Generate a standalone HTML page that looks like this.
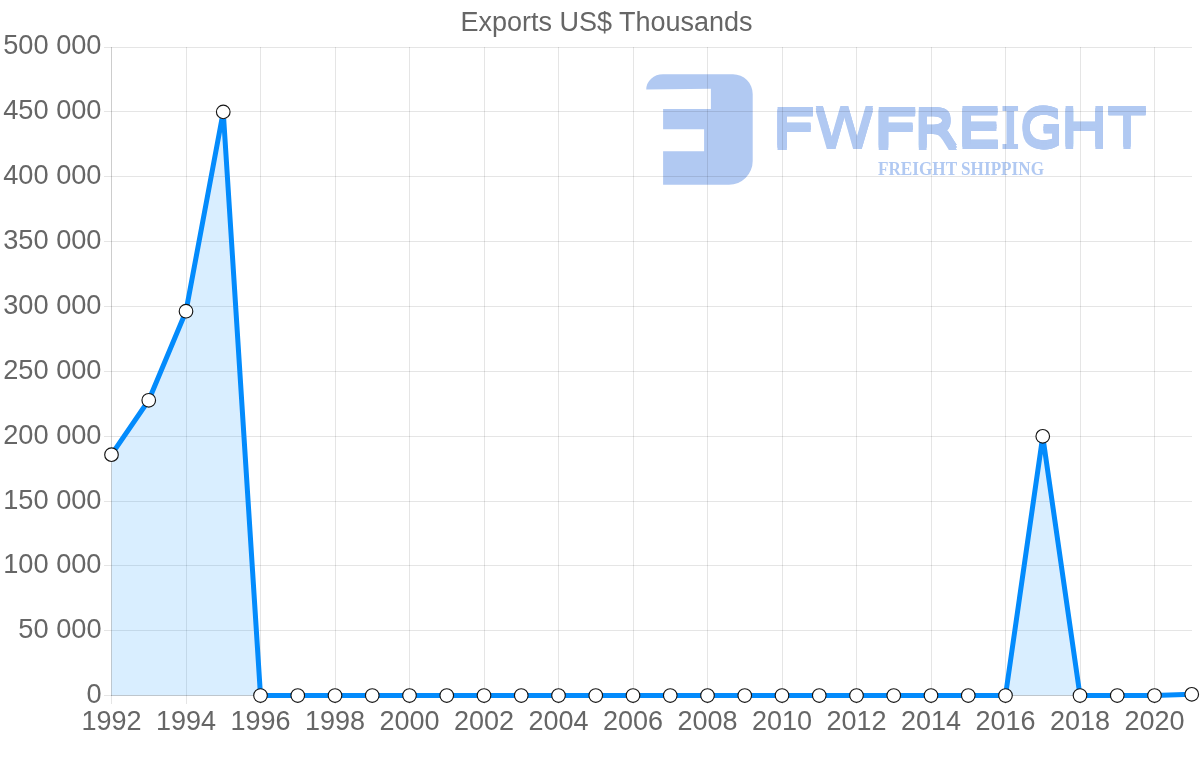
<!DOCTYPE html>
<html><head><meta charset="utf-8"><title>Exports US$ Thousands</title>
<style>
html,body{margin:0;padding:0;background:#fff;width:1200px;height:763px;overflow:hidden}
svg{display:block;will-change:transform}
.t{font-family:"Liberation Sans",Arial,sans-serif;fill:#666;font-size:27px}
.ty{font-size:27.2px}
.lg{font-family:"DejaVu Sans","Liberation Sans",sans-serif;font-weight:bold;font-size:100px}
.lm{font-family:"DejaVu Sans Mono","Liberation Mono",monospace;font-weight:bold;font-size:100px}
</style></head><body>
<svg width="1200" height="763" viewBox="0 0 1200 763">
<rect width="1200" height="763" fill="#fff"/>

<g fill="rgb(177,201,242)">
<path d="M663,74.2 L733,74.2 A19.7,19.8 0 0 1 752.7,94 L752.7,161 A23.7,23.7 0 0 1 729,184.7 L663.1,184.7 L663.1,151.2 L704.1,151.2 L704.1,129.2 L663.1,129.2 L663.1,108.9 L710.9,108.9 L710.9,88.8 L646.25,89.5 A16.75,15.3 0 0 1 663,74.2 Z"/>
<filter id="thk" x="-5%" y="-20%" width="110%" height="140%"><feOffset in="SourceGraphic" dx="0.000" dy="0.000" result="o0"/><feOffset in="SourceGraphic" dx="0.000" dy="1.500" result="o1"/><feOffset in="SourceGraphic" dx="0.000" dy="3.000" result="o2"/><feOffset in="SourceGraphic" dx="0.000" dy="4.500" result="o3"/><feOffset in="SourceGraphic" dx="0.500" dy="0.000" result="o4"/><feOffset in="SourceGraphic" dx="0.500" dy="1.500" result="o5"/><feOffset in="SourceGraphic" dx="0.500" dy="3.000" result="o6"/><feOffset in="SourceGraphic" dx="0.500" dy="4.500" result="o7"/><feOffset in="SourceGraphic" dx="1.000" dy="0.000" result="o8"/><feOffset in="SourceGraphic" dx="1.000" dy="1.500" result="o9"/><feOffset in="SourceGraphic" dx="1.000" dy="3.000" result="o10"/><feOffset in="SourceGraphic" dx="1.000" dy="4.500" result="o11"/><feMerge><feMergeNode in="o0"/><feMergeNode in="o1"/><feMergeNode in="o2"/><feMergeNode in="o3"/><feMergeNode in="o4"/><feMergeNode in="o5"/><feMergeNode in="o6"/><feMergeNode in="o7"/><feMergeNode in="o8"/><feMergeNode in="o9"/><feMergeNode in="o10"/><feMergeNode in="o11"/></feMerge></filter>
<g filter="url(#thk)">
<text font-family="'DejaVu Sans',sans-serif" font-weight="normal" font-size="100" transform="translate(769.48,144.56) scale(0.8217,0.5200)">F</text>
<text font-family="'DejaVu Sans',sans-serif" font-weight="normal" font-size="100" transform="translate(813.87,144.30) scale(0.6076,0.5164)">W</text>
<text font-family="'DejaVu Sans',sans-serif" font-weight="normal" font-size="100" transform="translate(870.57,144.56) scale(0.8434,0.5200)">F</text>
<text font-family="'DejaVu Sans',sans-serif" font-weight="normal" font-size="100" transform="translate(912.50,144.56) scale(0.6496,0.5200)">R</text>
<text font-family="'DejaVu Sans',sans-serif" font-weight="normal" font-size="100" transform="translate(955.16,144.30) scale(0.7340,0.5200)">E</text>
<text font-family="'DejaVu Sans',sans-serif" font-weight="normal" font-size="100" transform="translate(1019.45,144.30) scale(0.5547,0.5164)">G</text>
<text font-family="'DejaVu Sans',sans-serif" font-weight="normal" font-size="100" transform="translate(1059.28,144.30) scale(0.6523,0.5164)">H</text>
<text font-family="'DejaVu Sans',sans-serif" font-weight="normal" font-size="100" transform="translate(1108.30,144.30) scale(0.5935,0.5200)">T</text>
</g>
<filter id="thi" x="-10%" y="-10%" width="160%" height="120%"><feOffset in="SourceGraphic" dx="0.000" result="i0"/><feOffset in="SourceGraphic" dx="1.250" result="i1"/><feOffset in="SourceGraphic" dx="2.500" result="i2"/><feOffset in="SourceGraphic" dx="3.750" result="i3"/><feOffset in="SourceGraphic" dx="5.000" result="i4"/><feMerge><feMergeNode in="i0"/><feMergeNode in="i1"/><feMergeNode in="i2"/><feMergeNode in="i3"/><feMergeNode in="i4"/></feMerge></filter>
<g filter="url(#thi)">
<text font-family="'DejaVu Sans Mono',monospace" font-size="100" transform="translate(999.91,148.80) scale(0.2593,0.5821)">I</text>
</g>
<text x="878" y="175" font-family="'Liberation Serif',serif" font-weight="bold" font-size="18" textLength="166" lengthAdjust="spacingAndGlyphs">FREIGHT SHIPPING</text>
</g>
<rect x="104" y="47" width="1088" height="1" fill="rgba(0,0,0,0.1)"/>
<rect x="104" y="111" width="1088" height="1" fill="rgba(0,0,0,0.1)"/>
<rect x="104" y="176" width="1088" height="1" fill="rgba(0,0,0,0.1)"/>
<rect x="104" y="241" width="1088" height="1" fill="rgba(0,0,0,0.1)"/>
<rect x="104" y="306" width="1088" height="1" fill="rgba(0,0,0,0.1)"/>
<rect x="104" y="371" width="1088" height="1" fill="rgba(0,0,0,0.1)"/>
<rect x="104" y="436" width="1088" height="1" fill="rgba(0,0,0,0.1)"/>
<rect x="104" y="501" width="1088" height="1" fill="rgba(0,0,0,0.1)"/>
<rect x="104" y="565" width="1088" height="1" fill="rgba(0,0,0,0.1)"/>
<rect x="104" y="630" width="1088" height="1" fill="rgba(0,0,0,0.1)"/>
<rect x="111" y="47" width="1" height="657" fill="rgba(0,0,0,0.1)"/>
<rect x="186" y="47" width="1" height="657" fill="rgba(0,0,0,0.1)"/>
<rect x="260" y="47" width="1" height="657" fill="rgba(0,0,0,0.1)"/>
<rect x="335" y="47" width="1" height="657" fill="rgba(0,0,0,0.1)"/>
<rect x="409" y="47" width="1" height="657" fill="rgba(0,0,0,0.1)"/>
<rect x="484" y="47" width="1" height="657" fill="rgba(0,0,0,0.1)"/>
<rect x="558" y="47" width="1" height="657" fill="rgba(0,0,0,0.1)"/>
<rect x="633" y="47" width="1" height="657" fill="rgba(0,0,0,0.1)"/>
<rect x="707" y="47" width="1" height="657" fill="rgba(0,0,0,0.1)"/>
<rect x="782" y="47" width="1" height="657" fill="rgba(0,0,0,0.1)"/>
<rect x="856" y="47" width="1" height="657" fill="rgba(0,0,0,0.1)"/>
<rect x="931" y="47" width="1" height="657" fill="rgba(0,0,0,0.1)"/>
<rect x="1005" y="47" width="1" height="657" fill="rgba(0,0,0,0.1)"/>
<rect x="1080" y="47" width="1" height="657" fill="rgba(0,0,0,0.1)"/>
<rect x="1154" y="47" width="1" height="657" fill="rgba(0,0,0,0.1)"/>
<rect x="111" y="47" width="1" height="649" fill="rgba(0,0,0,0.1)"/>
<path d="M111.50,695.5 L111.50,454.70 L148.75,400.27 L186.00,311.24 L223.25,111.91 L260.50,695.50 L297.75,695.50 L335.00,695.50 L372.25,695.50 L409.50,695.50 L446.75,695.50 L484.00,695.50 L521.25,695.50 L558.50,695.50 L595.75,695.50 L633.00,695.50 L670.25,695.50 L707.50,695.50 L744.75,695.50 L782.00,695.50 L819.25,695.50 L856.50,695.50 L893.75,695.50 L931.00,695.50 L968.25,695.50 L1005.50,695.50 L1042.75,436.30 L1080.00,695.50 L1117.25,695.50 L1154.50,695.50 L1191.75,694.33 L1191.75,695.5 Z" fill="rgba(3,139,252,0.15)"/>
<rect x="104" y="695" width="1088" height="1" fill="rgba(0,0,0,0.1)"/>
<rect x="111" y="695" width="1081" height="1" fill="rgba(0,0,0,0.1)"/>
<path d="M111.50,454.70 L148.75,400.27 L186.00,311.24 L223.25,111.91 L260.50,695.50 L297.75,695.50 L335.00,695.50 L372.25,695.50 L409.50,695.50 L446.75,695.50 L484.00,695.50 L521.25,695.50 L558.50,695.50 L595.75,695.50 L633.00,695.50 L670.25,695.50 L707.50,695.50 L744.75,695.50 L782.00,695.50 L819.25,695.50 L856.50,695.50 L893.75,695.50 L931.00,695.50 L968.25,695.50 L1005.50,695.50 L1042.75,436.30 L1080.00,695.50 L1117.25,695.50 L1154.50,695.50 L1191.75,694.33" fill="none" stroke="rgb(3,139,252)" stroke-width="5" stroke-linejoin="miter"/>
<circle cx="111.50" cy="454.70" r="6.8" fill="#fff" stroke="#151515" stroke-width="1.15"/>
<circle cx="148.75" cy="400.27" r="6.8" fill="#fff" stroke="#151515" stroke-width="1.15"/>
<circle cx="186.00" cy="311.24" r="6.8" fill="#fff" stroke="#151515" stroke-width="1.15"/>
<circle cx="223.25" cy="111.91" r="6.8" fill="#fff" stroke="#151515" stroke-width="1.15"/>
<circle cx="260.50" cy="695.50" r="6.8" fill="#fff" stroke="#151515" stroke-width="1.15"/>
<circle cx="297.75" cy="695.50" r="6.8" fill="#fff" stroke="#151515" stroke-width="1.15"/>
<circle cx="335.00" cy="695.50" r="6.8" fill="#fff" stroke="#151515" stroke-width="1.15"/>
<circle cx="372.25" cy="695.50" r="6.8" fill="#fff" stroke="#151515" stroke-width="1.15"/>
<circle cx="409.50" cy="695.50" r="6.8" fill="#fff" stroke="#151515" stroke-width="1.15"/>
<circle cx="446.75" cy="695.50" r="6.8" fill="#fff" stroke="#151515" stroke-width="1.15"/>
<circle cx="484.00" cy="695.50" r="6.8" fill="#fff" stroke="#151515" stroke-width="1.15"/>
<circle cx="521.25" cy="695.50" r="6.8" fill="#fff" stroke="#151515" stroke-width="1.15"/>
<circle cx="558.50" cy="695.50" r="6.8" fill="#fff" stroke="#151515" stroke-width="1.15"/>
<circle cx="595.75" cy="695.50" r="6.8" fill="#fff" stroke="#151515" stroke-width="1.15"/>
<circle cx="633.00" cy="695.50" r="6.8" fill="#fff" stroke="#151515" stroke-width="1.15"/>
<circle cx="670.25" cy="695.50" r="6.8" fill="#fff" stroke="#151515" stroke-width="1.15"/>
<circle cx="707.50" cy="695.50" r="6.8" fill="#fff" stroke="#151515" stroke-width="1.15"/>
<circle cx="744.75" cy="695.50" r="6.8" fill="#fff" stroke="#151515" stroke-width="1.15"/>
<circle cx="782.00" cy="695.50" r="6.8" fill="#fff" stroke="#151515" stroke-width="1.15"/>
<circle cx="819.25" cy="695.50" r="6.8" fill="#fff" stroke="#151515" stroke-width="1.15"/>
<circle cx="856.50" cy="695.50" r="6.8" fill="#fff" stroke="#151515" stroke-width="1.15"/>
<circle cx="893.75" cy="695.50" r="6.8" fill="#fff" stroke="#151515" stroke-width="1.15"/>
<circle cx="931.00" cy="695.50" r="6.8" fill="#fff" stroke="#151515" stroke-width="1.15"/>
<circle cx="968.25" cy="695.50" r="6.8" fill="#fff" stroke="#151515" stroke-width="1.15"/>
<circle cx="1005.50" cy="695.50" r="6.8" fill="#fff" stroke="#151515" stroke-width="1.15"/>
<circle cx="1042.75" cy="436.30" r="6.8" fill="#fff" stroke="#151515" stroke-width="1.15"/>
<circle cx="1080.00" cy="695.50" r="6.8" fill="#fff" stroke="#151515" stroke-width="1.15"/>
<circle cx="1117.25" cy="695.50" r="6.8" fill="#fff" stroke="#151515" stroke-width="1.15"/>
<circle cx="1154.50" cy="695.50" r="6.8" fill="#fff" stroke="#151515" stroke-width="1.15"/>
<circle cx="1191.75" cy="694.33" r="6.8" fill="#fff" stroke="#151515" stroke-width="1.15"/>
<text class="t ty" x="101.5" y="54" text-anchor="end">500 000</text>
<text class="t ty" x="101.5" y="119" text-anchor="end">450 000</text>
<text class="t ty" x="101.5" y="184" text-anchor="end">400 000</text>
<text class="t ty" x="101.5" y="249" text-anchor="end">350 000</text>
<text class="t ty" x="101.5" y="314" text-anchor="end">300 000</text>
<text class="t ty" x="101.5" y="379" text-anchor="end">250 000</text>
<text class="t ty" x="101.5" y="444" text-anchor="end">200 000</text>
<text class="t ty" x="101.5" y="509" text-anchor="end">150 000</text>
<text class="t ty" x="101.5" y="573" text-anchor="end">100 000</text>
<text class="t ty" x="101.5" y="638" text-anchor="end">50 000</text>
<text class="t ty" x="101.5" y="703" text-anchor="end">0</text>
<text class="t" x="111.50" y="730" text-anchor="middle">1992</text>
<text class="t" x="186.00" y="730" text-anchor="middle">1994</text>
<text class="t" x="260.50" y="730" text-anchor="middle">1996</text>
<text class="t" x="335.00" y="730" text-anchor="middle">1998</text>
<text class="t" x="409.50" y="730" text-anchor="middle">2000</text>
<text class="t" x="484.00" y="730" text-anchor="middle">2002</text>
<text class="t" x="558.50" y="730" text-anchor="middle">2004</text>
<text class="t" x="633.00" y="730" text-anchor="middle">2006</text>
<text class="t" x="707.50" y="730" text-anchor="middle">2008</text>
<text class="t" x="782.00" y="730" text-anchor="middle">2010</text>
<text class="t" x="856.50" y="730" text-anchor="middle">2012</text>
<text class="t" x="931.00" y="730" text-anchor="middle">2014</text>
<text class="t" x="1005.50" y="730" text-anchor="middle">2016</text>
<text class="t" x="1080.00" y="730" text-anchor="middle">2018</text>
<text class="t" x="1154.50" y="730" text-anchor="middle">2020</text>
<text class="t" x="606.5" y="31" text-anchor="middle">Exports US$ Thousands</text>
</svg>
</body></html>
